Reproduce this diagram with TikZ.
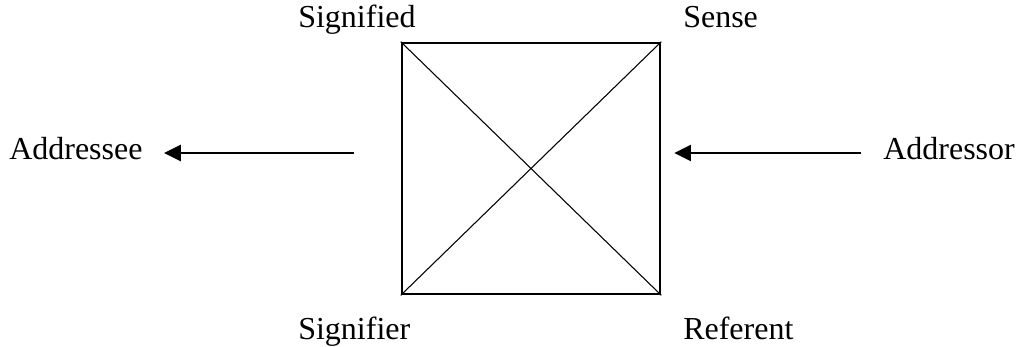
\documentclass[tikz,border=0pt]{standalone}
\usepackage{fontspec}
\setmainfont{Liberation Serif}
\usetikzlibrary{positioning,arrows.meta}

\begin{document}
\begin{tikzpicture}[
x=0.75pt, y=-0.75pt,
font=\fontsize{24}{29}\selectfont,
lbl/.style={anchor=base west, inner sep=0pt},
sqbox/.style={draw, line width=1.9pt, minimum width=193.5pt, minimum height=188.25pt, inner sep=0pt},
diag/.style={line width=0.8pt},
arrow/.style={-{Triangle[length=12.5pt, width=12pt]}, line width=1.6pt}
]
\useasboundingbox (0,0) rectangle (1016,346);
\node[sqbox] (sq) at (531,168.5) {};
\draw[diag] (sq.north west) -- (sq.south east);
\draw[diag] (sq.south west) -- (sq.north east);

\node[lbl] (signified) at (298,28) {Signified};
\node[lbl] (sense) at (683,28) {Sense};
\node[lbl] (signifier) at (298,339) {Signifier};
\node[lbl] (referent) at (683,339) {Referent};
\node[lbl] (addressee) at (9,159) {Addressee};
\node[lbl] (addressor) at (883,159) {Addressor};

\coordinate (outL) at (354,153);
\coordinate (inR) at (861,153);
\draw[arrow] (outL) -- ([xshift=16pt]addressee.east |- outL);
\draw[arrow] (inR) -- ([xshift=9.75pt]sq.east |- inR);
\end{tikzpicture}
\end{document}
